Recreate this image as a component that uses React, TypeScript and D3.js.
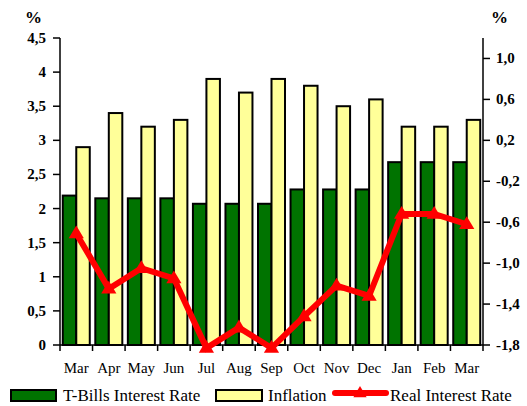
import React from "react";
import * as d3 from "d3";

const months = ["Mar", "Apr", "May", "Jun", "Jul", "Aug", "Sep", "Oct", "Nov", "Dec", "Jan", "Feb", "Mar"];
const tbills = [2.19, 2.15, 2.15, 2.15, 2.07, 2.07, 2.07, 2.28, 2.28, 2.28, 2.68, 2.68, 2.68];
const inflation = [2.9, 3.4, 3.2, 3.3, 3.9, 3.7, 3.9, 3.8, 3.5, 3.6, 3.2, 3.2, 3.3];
const realRate = [-0.71, -1.25, -1.05, -1.15, -1.83, -1.63, -1.83, -1.52, -1.22, -1.32, -0.52, -0.52, -0.62];
const leftTicks = [0, 0.5, 1, 1.5, 2, 2.5, 3, 3.5, 4, 4.5];
const rightTicks = [-1.8, -1.4, -1.0, -0.6, -0.2, 0.2, 0.6, 1.0];

const W = 527, H = 406;
const x0 = 60, x1 = 483, yTop = 38, yBot = 345;
const FONT = "Liberation Serif, Times New Roman, serif";

export default function App() {
  const idx = months.map((_, i) => i);
  const x = d3.scaleBand<number>().domain(idx).range([x0, x1]).padding(0);
  const yL = d3.scaleLinear().domain([0, 4.5]).range([yBot, yTop]);
  const yR = d3.scaleLinear().domain([-1.8, 1.2]).range([yBot, yTop]);
  const bw = x.bandwidth();
  const barW = 13.5;
  const fmt = (v: number) => String(v).replace(".", ",");
  const fmtR = (v: number) => v.toFixed(1).replace(".", ",");
  const line = d3.line<number>().x((_, i) => x(i)! + bw / 2).y((d) => yR(d));
  const tri = (cx: number, cy: number, s = 8) =>
    `M${cx},${cy - s} L${cx + s * 0.95},${cy + s * 0.6} L${cx - s * 0.95},${cy + s * 0.6} Z`;
  const txt = { fontFamily: FONT };

  return (
    <svg width={W} height={H} style={{ position: "absolute", left: 0, top: 0, background: "#fff" }}>
      {/* bars */}
      {idx.map((i) => {
        const cx = x(i)! + bw / 2;
        return (
          <g key={i}>
            <rect x={cx - barW} y={yL(tbills[i])} width={barW} height={yBot - yL(tbills[i])} fill="#007300" stroke="#000" strokeWidth={2} />
            <rect x={cx} y={yL(inflation[i])} width={barW} height={yBot - yL(inflation[i])} fill="#FFFF99" stroke="#000" strokeWidth={2} />
          </g>
        );
      })}
      {/* left axis */}
      <line x1={x0} x2={x0} y1={yTop} y2={yBot} stroke="#000" strokeWidth={1.5} />
      {leftTicks.map((t) => (
        <g key={t}>
          <line x1={x0 - 7} x2={x0} y1={yL(t)} y2={yL(t)} stroke="#000" strokeWidth={1.5} />
          <text x={46} y={yL(t) + 5} textAnchor="end" fontSize={15} fontWeight="bold" style={txt}>{fmt(t)}</text>
        </g>
      ))}
      <text x={25} y={23} fontSize={17} fontWeight="bold" style={txt}>%</text>
      {/* right axis */}
      <line x1={x1} x2={x1} y1={yTop} y2={yBot} stroke="#000" strokeWidth={1.5} />
      {rightTicks.map((t) => (
        <g key={t}>
          <line x1={x1} x2={x1 + 7} y1={yR(t)} y2={yR(t)} stroke="#000" strokeWidth={1.5} />
          <text x={496} y={yR(t) + 5} textAnchor="start" fontSize={15} fontWeight="bold" style={txt}>{fmtR(t)}</text>
        </g>
      ))}
      <text x={491} y={23} fontSize={17} fontWeight="bold" style={txt}>%</text>
      {/* x axis */}
      <line x1={x0} x2={x1} y1={yBot} y2={yBot} stroke="#000" strokeWidth={1.5} />
      {d3.range(months.length + 1).map((k) => {
        const xx = x0 + k * bw;
        return <line key={k} x1={xx} x2={xx} y1={yBot} y2={yBot + 6} stroke="#000" strokeWidth={1.5} />;
      })}
      {months.map((m, i) => (
        <text key={i} x={x(i)! + bw / 2} y={373} textAnchor="middle" fontSize={15} fontWeight="normal" style={txt}>{m}</text>
      ))}
      {/* line */}
      <path d={line(realRate) || ""} fill="none" stroke="#FF0000" strokeWidth={6} strokeLinejoin="miter" />
      {realRate.map((v, i) => (
        <path key={i} d={tri(x(i)! + bw / 2, yR(v))} fill="#FF0000" />
      ))}
      {/* legend */}
      <rect x={11} y={390} width={45} height={11} fill="#007300" stroke="#000" strokeWidth={2} />
      <text x={63} y={401} fontSize={17} style={txt}>T-Bills Interest Rate</text>
      <rect x={216} y={390} width={46} height={11} fill="#FFFF99" stroke="#000" strokeWidth={2} />
      <text x={268} y={401} fontSize={17} style={txt}>Inflation</text>
      <line x1={335} x2={386} y1={393} y2={393} stroke="#FF0000" strokeWidth={6} strokeLinecap="round" />
      <path d={tri(360, 393, 7)} fill="#FF0000" />
      <text x={390} y={401} fontSize={17} style={txt}>Real Interest Rate</text>
    </svg>
  );
}
